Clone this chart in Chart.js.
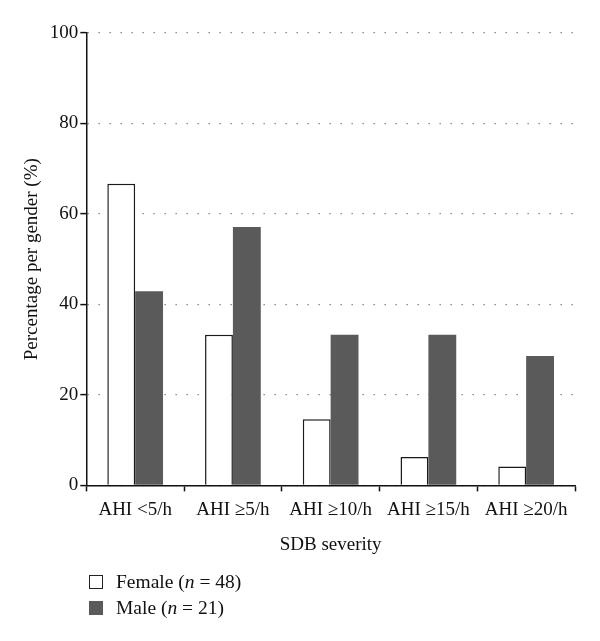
<!DOCTYPE html>
<html>
<head>
<meta charset="utf-8">
<script src="https://cdn.jsdelivr.net/npm/chart.js@4.4.1/dist/chart.umd.min.js"></script>
<style>
    html, body { margin: 0; padding: 0; background: #fff; }
    #wrap { position: relative; width: 600px; height: 641px; }
    #legend {
        position: absolute; left: 89px; top: 569px;
        font-family: "Liberation Serif", serif; font-size: 19.5px; color: #111;
    }
    .row { display: flex; align-items: center; height: 26px; }
    .sw { width: 14px; height: 14px; margin-right: 13px; box-sizing: border-box; }
</style>
</head>
<body>
<div id="wrap">
    <canvas id="chart" width="600" height="641"></canvas>
    <div id="legend">
        <div class="row"><span class="sw" style="border:1.5px solid #222;background:#fff"></span>Female (<i>n</i>&nbsp;= 48)</div>
        <div class="row"><span class="sw" style="background:#5a5a5a"></span>Male (<i>n</i>&nbsp;= 21)</div>
    </div>
</div>
<script>
/* SDB severity by gender — grouped bars */

const CATEGORIES = ["AHI <5/h", "AHI \u22655/h", "AHI \u226510/h", "AHI \u226515/h", "AHI \u226520/h"];
const FEMALE = [66.7, 33.3, 14.6, 6.3, 4.2];
const MALE = [42.9, 57.1, 33.3, 33.3, 28.6];
const Y_TICKS = [0, 20, 40, 60, 80, 100];

const FONT = "'Liberation Serif', 'DejaVu Serif', serif";
Chart.defaults.font.family = FONT;
Chart.defaults.font.size = 19;
Chart.defaults.color = "#111";

new Chart(document.getElementById("chart"), {
    type: "bar",
    data: {
        labels: CATEGORIES,
        datasets: [
            {
                label: "Female (n = 48)",
                data: FEMALE,
                backgroundColor: "#ffffff",
                borderColor: "#1a1a1a",
                borderWidth: 1.5,
                borderSkipped: "bottom",
                categoryPercentage: 0.57,
                barPercentage: 1,
            },
            {
                label: "Male (n = 21)",
                data: MALE,
                backgroundColor: "#5a5a5a",
                borderWidth: 0,
                categoryPercentage: 0.57,
                barPercentage: 1,
            },
        ],
    },
    options: {
        responsive: false,
        animation: false,
        layout: { padding: { top: 33, right: 25, bottom: 85, left: 21 } },
        scales: {
            x: {
                offset: true,
                grid: { drawOnChartArea: false, offset: true, tickLength: 6, tickColor: "#111", tickWidth: 1.5 },
                border: { color: "#111", width: 1.5 },
                ticks: { maxRotation: 0, autoSkip: false, padding: 7, color: "#111" },
                title: { display: true, text: "SDB severity", padding: { top: 5, bottom: 0 }, color: "#111" },
            },
            y: {
                min: 0,
                max: 100,
                afterBuildTicks: (axis) => { axis.ticks = Y_TICKS.map((v) => ({ value: v })); },
                grid: { color: "#777", lineWidth: 1.2, tickLength: 6, tickColor: "#111", tickWidth: 1.5 },
                border: { color: "#111", width: 1.5, dash: [1.3, 9.7] },
                ticks: { padding: 2, color: "#111" },
                title: { display: true, text: "Percentage per gender (%)", padding: { top: 0, bottom: 4 }, color: "#111" },
            },
        },
        plugins: {
            legend: { display: false },
            tooltip: { enabled: false },
        },
    },
});
</script>
</body>
</html>
